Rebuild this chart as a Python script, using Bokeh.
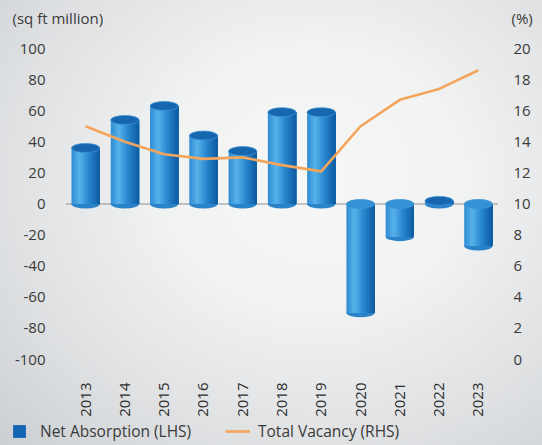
import math
from bokeh.plotting import figure
from bokeh.models import Range1d, Legend, LegendItem
from bokeh.core.properties import value
from bokeh.embed import file_html
from bokeh.resources import INLINE

# ---- data ----
years = ["2013", "2014", "2015", "2016", "2017", "2018", "2019", "2020", "2021", "2022", "2023"]
net_absorption = [36, 54, 63, 44, 34, 59, 59, -70, -21, 2, -27]       # sq ft million (LHS)
total_vacancy = [15.0, 14.0, 13.2, 12.9, 13.0, 12.5, 12.1, 15.0, 16.7, 17.4, 18.6]  # % (RHS)
left_ticks = [-100, -80, -60, -40, -20, 0, 20, 40, 60, 80, 100]
left_tick_labels = ["-100", "-80", "-60", "-40", "-20", "0", "20", "40", "60", "80", "100"]
right_ticks = [0, 2, 4, 6, 8, 10, 12, 14, 16, 18, 20]
right_tick_labels = ["0", "2", "4", "6", "8", "10", "12", "14", "16", "18", "20"]
left_unit = "(sq ft million)"
right_unit = "(%)"

FONT = value("Open Sans")
TXT = "#3a3a3a"
W, H = 542, 445
xs = list(range(len(years)))

# layout geometry (pixels) -> ranges so the frame fills the whole canvas
PX_L, PX_R = 65.5, 497.5        # plot area left / right
PX_T, PX_B = 48.0, 359.0        # y=100 / y=-100
ux = (PX_R - PX_L) / len(years)
uy = (PX_B - PX_T) / 200.0
uy2 = (PX_B - PX_T) / 20.0
x0 = -0.5 - PX_L / ux
x1 = -0.5 + (W - PX_L) / ux
y_top = 100 + PX_T / uy
y_bot = -100 - (H - PX_B) / uy

p = figure(width=W, height=H, output_backend="svg", toolbar_location=None,
           x_range=Range1d(x0, x1), y_range=Range1d(y_bot, y_top),
           min_border=0)
p.xaxis.visible = False
p.yaxis.visible = False
p.background_fill_color = None
p.border_fill_color = None
p.outline_line_color = None
p.xgrid.visible = False
p.ygrid.visible = False
p.extra_y_ranges = {"right": Range1d(0 - (H - PX_B) / uy2, 20 + PX_T / uy2)}

# zero line across the plot area
p.segment(x0=[-0.5], x1=[len(years) - 0.5], y0=[0], y1=[0], line_color="#8f8f8f", line_width=1.2)

# ---- tick labels (real text) ----
xl = -0.5 - (PX_L - 45) / ux
xr = -0.5 + (513 - PX_L) / ux
p.text(x=[xl] * len(left_ticks), y=left_ticks, text=left_tick_labels, text_font=FONT,
       text_font_size="15px", text_color=TXT, text_align="right", text_baseline="middle")
p.text(x=[xr] * len(right_ticks), y=right_ticks, text=right_tick_labels, text_font=FONT,
       text_font_size="15px", text_color=TXT, text_align="left", text_baseline="middle",
       y_range_name="right")
yy = -100 - (382 - PX_B) / uy
p.text(x=xs, y=[yy] * len(xs), text=years, text_font=FONT, text_font_size="15px",
       text_color="#2e2e2e", text_align="right", text_baseline="middle", angle=math.pi / 2)
yu = 100 + (PX_T - 17) / uy
p.text(x=[-0.5 - (PX_L - 12) / ux], y=[yu], text=[left_unit], text_font=FONT, text_font_size="15px",
       text_color=TXT, text_align="left", text_baseline="middle")
p.text(x=[-0.5 + (511 - PX_L) / ux], y=[yu], text=[right_unit], text_font=FONT, text_font_size="15px",
       text_color=TXT, text_align="left", text_baseline="middle")

# ---- cylinder bars ----
BW = 0.72
EH = 5.8
stops = [(0.0, (0x2c, 0x8a, 0xd2)), (0.28, (0x58, 0xb2, 0xea)), (0.6, (0x2a, 0x88, 0xd0)),
         (1.0, (0x0d, 0x5a, 0xa0))]

def grad(t):
    for (t0, c0), (t1, c1) in zip(stops[:-1], stops[1:]):
        if t <= t1:
            f = (t - t0) / (t1 - t0)
            return "#%02x%02x%02x" % tuple(int(round(a + (b - a) * f)) for a, b in zip(c0, c1))
    return "#%02x%02x%02x" % stops[-1][1]

lo = [min(0, v) for v in net_absorption]
hi = [max(0, v) for v in net_absorption]
top_col = ["#1666b0" if v > 0 else "#3591d6" for v in net_absorption]

p.ellipse(x=xs, y=lo, width=BW, height=EH, fill_color="#2a82c8", line_color=None)
N = 20
sw = BW / N
for k in range(N):
    left = -BW / 2 + sw * k
    right = BW / 2
    p.vbar(x=[x + (left + right) / 2 for x in xs], width=right - left, top=hi, bottom=lo,
           fill_color=grad((k + 0.5) / N), line_color=None)
p.ellipse(x=xs, y=hi, width=BW, height=EH, fill_color=top_col, line_color="#3d93d4", line_width=0.8)

# ---- vacancy line ----
line_r = p.line(xs, total_vacancy, y_range_name="right", line_color="#f3a55c", line_width=2.6)

# ---- legend ----
sq = p.vbar(x=[0], top=[0], bottom=[0], width=0.001, fill_color="#1465b4", line_color=None)
leg1 = Legend(items=[LegendItem(label="Net Absorption (LHS)", renderers=[sq])],
              location=(11, 3), glyph_width=16, glyph_height=16, label_standoff=13)
leg2 = Legend(items=[LegendItem(label="Total Vacancy (RHS)", renderers=[line_r])],
              location=(225, 3), glyph_width=25, glyph_height=16, label_standoff=8)
for lg in (leg1, leg2):
    lg.padding = 0
    lg.margin = 0
    lg.spacing = 0
    lg.border_line_color = None
    lg.background_fill_color = None
    lg.background_fill_alpha = 0
    lg.label_text_font = "Open Sans"
    lg.label_text_font_size = "15.5px"
    lg.label_text_color = TXT
    lg.label_height = 16
    lg.label_text_baseline = "middle"
    p.add_layout(lg)

template = """
{% block preamble %}
<style>
html { height: 100%; background: radial-gradient(ellipse 80% 85% at 58% 40%, #f7f7f7 0%, #f1f2f2 35%, #dfe1e3 70%, #cdd0d3 100%); }
body { margin: 0; padding: 0; background: transparent; }
</style>
{% endblock %}
"""
open("out.html", "w").write(file_html(p, INLINE, template=template))
